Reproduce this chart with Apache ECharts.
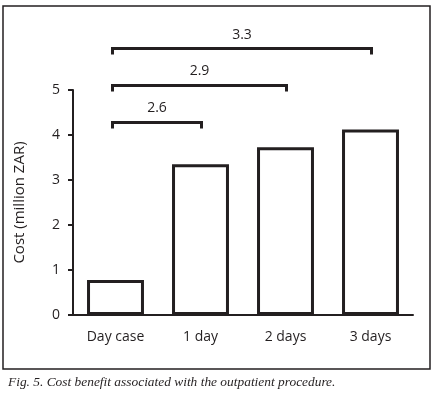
<!DOCTYPE html>
<html>
<head>
<meta charset="utf-8">
<script src="https://cdn.jsdelivr.net/npm/echarts@6/dist/echarts.min.js"></script>
<style>
  html, body { margin: 0; padding: 0; background: #fff; }
  #chart { width: 434px; height: 397px; }
</style>
</head>
<body>
<div id="chart"></div>
<script>
// categories and bar values (million ZAR)
const categories = ['Day case', '1 day', '2 days', '3 days'];
const costs = [0.78, 3.35, 3.73, 4.12];
const yTicks = [0, 1, 2, 3, 4, 5];

// comparison brackets: from category index, to category index, height, label
const bracketFrom = [0, 0, 0];
const bracketTo = [1, 2, 3];
const bracketLevel = [4.28, 5.1, 5.92];
const bracketLabels = ['2.6', '2.9', '3.3'];

const ink = '#231f20';
const font = '"Open Sans", "Noto Sans", sans-serif';

const myChart = echarts.init(document.getElementById('chart'), null, {renderer: 'canvas'});

const bracketData = bracketFrom.map((f, i) => [f, bracketTo[i], bracketLevel[i], i]);

const option = {
  animation: false,
  title: {
    text: 'Fig. 5. Cost benefit associated with the outpatient procedure.',
    left: 3,
    top: 371,
    textStyle: {
      fontFamily: '"Liberation Serif", serif',
      fontStyle: 'italic',
      fontWeight: 'normal',
      fontSize: 13.4,
      color: ink
    }
  },
  graphic: [
    {
      type: 'rect',
      shape: {x: 3, y: 6, width: 427, height: 363},
      style: {fill: 'none', stroke: ink, lineWidth: 1.5},
      silent: true
    }
  ],
  grid: {left: 73, right: 21, top: 90, bottom: 82},
  xAxis: {
    type: 'category',
    data: categories,
    axisLine: {lineStyle: {color: ink, width: 2}},
    axisTick: {show: false},
    axisLabel: {
      color: ink,
      fontFamily: font,
      fontSize: 14,
      margin: 15
    }
  },
  yAxis: {
    type: 'value',
    min: 0,
    max: 5,
    interval: 1,
    name: 'Cost (million ZAR)',
    nameLocation: 'middle',
    nameGap: 46,
    nameTextStyle: {color: ink, fontFamily: font, fontSize: 15},
    axisLine: {show: true, lineStyle: {color: ink, width: 2}},
    axisTick: {show: true, length: 5, lineStyle: {color: ink, width: 2}},
    axisLabel: {
      color: ink,
      fontFamily: font,
      fontSize: 14,
      margin: 13,
      formatter: v => (yTicks.indexOf(v) >= 0 ? String(v) : '')
    },
    splitLine: {show: false}
  },
  series: [
    {
      name: 'Cost',
      type: 'bar',
      data: costs,
      barWidth: '67%',
      itemStyle: {color: '#fff', borderColor: ink, borderWidth: 3}
    },
    {
      name: 'Brackets',
      type: 'custom',
      clip: false,
      silent: true,
      data: bracketData,
      encode: {x: [0, 1], y: 2},
      renderItem: (params, api) => {
        const a = api.coord([api.value(0), api.value(2)]);
        const b = api.coord([api.value(1), api.value(2)]);
        const x1 = a[0] - 3;
        const x2 = b[0] + 1;
        const y = a[1];
        return {
          type: 'group',
          children: [
            {
              type: 'polyline',
              shape: {points: [[x1, y + 6], [x1, y], [x2, y], [x2, y + 6]]},
              style: {fill: 'none', stroke: ink, lineWidth: 3}
            },
            {
              type: 'text',
              style: {
                x: (x1 + x2) / 2,
                y: y - 14,
                text: bracketLabels[api.value(3)],
                fill: ink,
                font: '14px ' + font,
                textAlign: 'center',
                textVerticalAlign: 'middle'
              }
            }
          ]
        };
      }
    }
  ]
};

myChart.setOption(option);
</script>
</body>
</html>
